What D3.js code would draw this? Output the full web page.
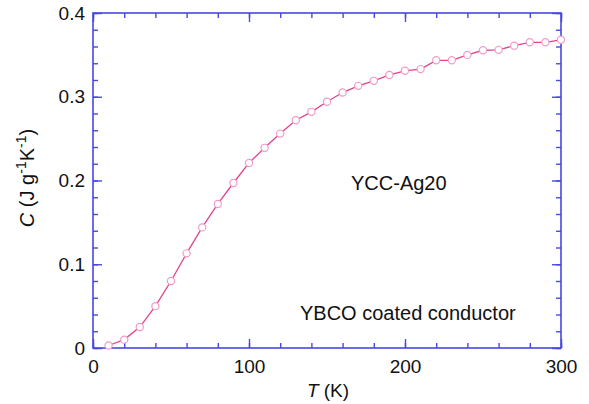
<!DOCTYPE html>
<html>
<head>
<meta charset="utf-8">
<script src="https://cdn.jsdelivr.net/npm/d3@7"></script>
<style>
  body { margin: 0; background: #fff; }
  svg { display: block; font-family: "Liberation Sans", Arial, sans-serif; }
</style>
</head>
<body>
<svg id="chart"></svg>
<script>
// temperatura (K) y calor especifico (J g-1 K-1)
var temps = [10, 20, 30, 40, 50, 60, 70, 80, 90, 100,
             110, 120, 130, 140, 150, 160, 170, 180, 190, 200,
             210, 220, 230, 240, 250, 260, 270, 280, 290, 300];
var calor = [0.003, 0.010, 0.025, 0.050, 0.080, 0.113, 0.144, 0.172, 0.197, 0.221,
             0.239, 0.256, 0.272, 0.282, 0.294, 0.305, 0.313, 0.319, 0.326, 0.331,
             0.333, 0.3435, 0.3435, 0.350, 0.3555, 0.356, 0.361, 0.365, 0.365, 0.368];
var xTicks = [0, 100, 200, 300];
var yTicks = [0, 0.1, 0.2, 0.3, 0.4];
var etiquetas = ["YCC-Ag20", "YBCO coated conductor"];

var w = 589, h = 404;
var azul = "#4848e4";
var svg = d3.select("#chart").attr("width", w).attr("height", h);

var x = d3.scaleLinear().domain([0, 300]).range([93, 561]);
var y = d3.scaleLinear().domain([0, 0.4]).range([348, 13]);

var menoresX = d3.range(0, 301, 20);
var menoresY = d3.range(0, 0.401, 0.02);

function estilo(g) {
  g.select(".domain").remove();
  g.selectAll("line").attr("stroke", azul).attr("stroke-width", 1.4);
  g.selectAll("text").attr("fill", "#111").style("font-size", "19px");
}

// ejes con etiquetas (abajo e izquierda)
svg.append("g").attr("transform", "translate(0,348)")
  .call(d3.axisBottom(x).tickValues(xTicks).tickSize(-9).tickPadding(12).tickFormat(d3.format("d")))
  .call(estilo);
svg.append("g").attr("transform", "translate(93,0)")
  .call(d3.axisLeft(y).tickValues(yTicks).tickSize(-9).tickPadding(8).tickFormat(function(d){ return d === 0 ? "0" : d3.format(".1f")(d); }))
  .call(estilo);
// ejes arriba y derecha, sin texto
svg.append("g").attr("transform", "translate(0,13)")
  .call(d3.axisTop(x).tickValues(xTicks).tickSize(-9).tickFormat(""))
  .call(estilo);
svg.append("g").attr("transform", "translate(561,0)")
  .call(d3.axisRight(y).tickValues(yTicks).tickSize(-9).tickFormat(""))
  .call(estilo);
// ticks menores
svg.append("g").attr("transform", "translate(0,348)")
  .call(d3.axisBottom(x).tickValues(menoresX).tickSize(-5).tickFormat("")).call(estilo);
svg.append("g").attr("transform", "translate(0,13)")
  .call(d3.axisTop(x).tickValues(menoresX).tickSize(-5).tickFormat("")).call(estilo);
svg.append("g").attr("transform", "translate(93,0)")
  .call(d3.axisLeft(y).tickValues(menoresY).tickSize(-5).tickFormat("")).call(estilo);
svg.append("g").attr("transform", "translate(561,0)")
  .call(d3.axisRight(y).tickValues(menoresY).tickSize(-5).tickFormat("")).call(estilo);

// marco
svg.append("rect")
  .attr("x", x(0)).attr("y", y(0.4))
  .attr("width", x(300) - x(0)).attr("height", y(0) - y(0.4))
  .attr("fill", "none").attr("stroke", azul).attr("stroke-width", 1.6);

var datos = temps.map(function(t, i){ return { t: t, c: calor[i] }; });

var linea = d3.line()
  .x(function(d){ return x(d.t); })
  .y(function(d){ return y(d.c); });

svg.append("path").datum(datos)
  .attr("d", linea)
  .attr("fill", "none")
  .attr("stroke", "#e0438c")
  .attr("stroke-width", 1.3);

svg.selectAll("circle").data(datos).enter().append("circle")
  .attr("cx", function(d){ return x(d.t); })
  .attr("cy", function(d){ return y(d.c); })
  .attr("r", 3.6)
  .attr("fill", "#fff")
  .attr("stroke", "#f09cc8")
  .attr("stroke-width", 1.2);

// textos
svg.append("text").attr("x", 351).attr("y", 190).text(etiquetas[0])
  .style("font-size", "20px").attr("fill", "#111");
svg.append("text").attr("x", 300).attr("y", 320).text(etiquetas[1])
  .style("font-size", "20px").attr("fill", "#111");

var tx = svg.append("text").attr("x", 328).attr("y", 397)
  .attr("text-anchor", "middle").style("font-size", "19px").attr("fill", "#111");
tx.append("tspan").style("font-style", "italic").text("T");
tx.append("tspan").text(" (K)");

var ty = svg.append("text").attr("transform", "translate(34,178) rotate(-90)")
  .attr("text-anchor", "middle").style("font-size", "20px").attr("fill", "#111");
ty.append("tspan").style("font-style", "italic").text("C");
ty.append("tspan").text(" (J g");
ty.append("tspan").attr("dy", -8).style("font-size", "14px").text("-1");
ty.append("tspan").attr("dy", 8).text("K");
ty.append("tspan").attr("dy", -8).style("font-size", "14px").text("-1");
ty.append("tspan").attr("dy", 8).text(")");
</script>
</body>
</html>
